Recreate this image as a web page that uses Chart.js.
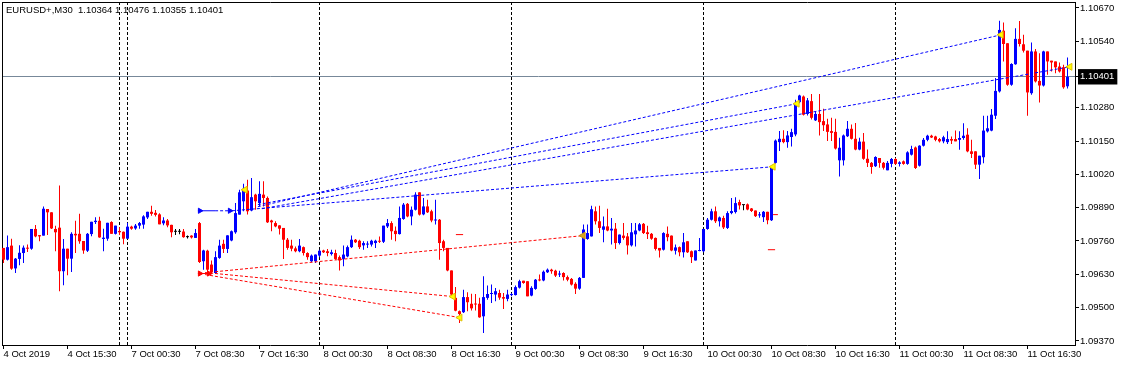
<!DOCTYPE html>
<html><head><meta charset="utf-8">
<script src="https://cdn.jsdelivr.net/npm/chart.js@4.4.1/dist/chart.umd.min.js"></script>
<style>
html,body{margin:0;padding:0;background:#fff;}
#wrap{position:relative;width:1122px;height:365px;background:#fff;}
#title{position:absolute;left:6px;top:4px;font:9.5px "Liberation Sans",Arial,sans-serif;color:#000;white-space:pre;line-height:11px;}
</style></head><body>
<div id="wrap"><canvas id="c"></canvas><div id="title">EURUSD+,M30  1.10364 1.10476 1.10355 1.10401</div></div>
<script>
// ---- data (EURUSD M30 candles) ----
const opens = [
1.09733,1.09687,1.09742,1.09653,1.09690,1.09713,1.09734,1.09730,1.09807,1.09783,
1.09781,1.09885,1.09872,1.09807,1.09812,1.09642,1.09730,1.09691,1.09788,1.09788,
1.09760,1.09722,1.09787,1.09834,1.09839,1.09768,1.09769,1.09834,1.09788,1.09799,
1.09796,1.09769,1.09816,1.09809,1.09820,1.09824,1.09852,1.09874,1.09870,1.09864,
1.09829,1.09840,1.09823,1.09796,1.09796,1.09797,1.09775,
1.09781,1.09772,1.09830,
1.09681,1.09722,1.09668,1.09635,1.09694,1.09749,1.09729,1.09762,1.09794,1.09863,
1.09915,1.09957,1.09879,1.09941,1.09908,1.09941,1.09928,1.09840,1.09830,1.09821,
1.09811,1.09765,1.09742,1.09731,1.09720,1.09736,1.09713,1.09681,1.09681,1.09703,
1.09723,1.09720,1.09709,1.09713,1.09697,1.09690,1.09700,1.09736,1.09765,1.09761,
1.09743,1.09746,1.09746,1.09752,1.09761,1.09757,1.09817,1.09830,1.09800,1.09787,
1.09846,1.09905,1.09856,1.09882,1.09950,1.09864,1.09895,1.09876,1.09840,1.09843,
1.09759,1.09733,1.09645,1.09538,1.09486,1.09482,1.09541,1.09515,1.09515,1.09515,
1.09466,1.09538,1.09553,1.09551,1.09557,1.09541,1.09534,1.09549,1.09549,1.09578,
1.09605,1.09603,1.09547,1.09573,1.09609,1.09606,1.09638,
1.09648,1.09644,1.09629,1.09635,1.09619,1.09612,1.09593,1.09574,1.09616,1.09768,
1.09778,1.09876,1.09837,1.09804,1.09817,1.09801,1.09808,1.09752,1.09781,1.09778,
1.09743,1.09786,1.09801,1.09827,1.09794,1.09788,1.09772,1.09733,1.09726,1.09788,
1.09781,1.09722,1.09736,1.09716,1.09759,1.09720,1.09684,1.09721,1.09720,1.09807,
1.09843,1.09876,1.09837,1.09850,1.09811,
1.09869,1.09873,1.09912,1.09900,1.09903,1.09887,1.09879,1.09860,1.09853,1.09874,1.09841,
1.10065,1.10146,1.10159,1.10146,1.10166,1.10176,1.10302,1.10324,1.10256,1.10306,
1.10231,1.10256,1.10228,1.10215,1.10189,1.10186,1.10075,1.10075,1.10169,1.10198,
1.10159,1.10117,1.10148,1.10081,1.10065,1.10052,1.10084,1.10065,1.10036,
1.10061,1.10080,1.10061,1.10071,1.10061,1.10097,1.10125,1.10054,1.10132,1.10155,
1.10171,1.10168,1.10158,1.10149,1.10146,1.10158,1.10158,1.10155,1.10162,1.10175,
1.10110,1.10110,1.10058,1.10087,1.10188,1.10191,1.10249,1.10344,1.10581,1.10532,
1.10370,1.10450,1.10549,1.10528,1.10503,1.10337,1.10500,1.10385,1.10367,1.10500,
1.10464,1.10461,1.10441,1.10438,1.10364
];
const highs = [
1.09733,1.09781,1.09769,1.09694,1.09743,1.09742,1.09746,1.09807,1.09822,1.09783,
1.09895,1.09885,1.09872,1.09820,1.09977,1.09768,1.09730,1.09794,1.09839,1.09866,
1.09760,1.09791,1.09835,1.09853,1.09855,1.09808,1.09831,1.09837,1.09820,1.09814,
1.09797,1.09831,1.09820,1.09826,1.09834,1.09861,1.09874,1.09898,1.09881,1.09868,
1.09853,1.09846,1.09823,1.09807,1.09807,1.09807,1.09781,
1.09782,1.09807,1.09834,
1.09726,1.09726,1.09684,1.09720,1.09765,1.09765,1.09782,1.09801,1.09908,1.09960,
1.09983,1.09999,1.10006,1.09944,1.09993,1.09993,1.09934,1.09843,1.09837,1.09821,
1.09811,1.09772,1.09765,1.09739,1.09768,1.09739,1.09716,1.09707,1.09707,1.09726,
1.09726,1.09729,1.09726,1.09726,1.09703,1.09742,1.09742,1.09781,1.09768,1.09765,
1.09759,1.09759,1.09765,1.09765,1.09778,1.09820,1.09846,1.09837,1.09817,1.09895,
1.09908,1.09908,1.09895,1.09950,1.09950,1.09928,1.09921,1.09882,1.09921,1.09846,
1.09765,1.09733,1.09645,1.09580,1.09489,1.09570,1.09560,1.09554,1.09553,1.09538,
1.09622,1.09586,1.09590,1.09577,1.09570,1.09557,1.09570,1.09557,1.09586,1.09609,
1.09605,1.09603,1.09583,1.09612,1.09629,1.09645,1.09653,
1.09652,1.09648,1.09644,1.09638,1.09625,1.09616,1.09599,1.09619,1.09824,1.09824,
1.09898,1.09895,1.09898,1.09856,1.09886,1.09850,1.09830,1.09785,1.09830,1.09791,
1.09830,1.09830,1.09830,1.09830,1.09820,1.09791,1.09774,1.09733,1.09794,1.09817,
1.09781,1.09746,1.09739,1.09791,1.09759,1.09723,1.09723,1.09772,1.09807,1.09850,
1.09886,1.09895,1.09856,1.09859,1.09876,
1.09928,1.09931,1.09921,1.09901,1.09906,1.09889,1.09879,1.09873,1.09877,1.09874,1.10049,
1.10156,1.10189,1.10192,1.10189,1.10198,1.10311,1.10331,1.10328,1.10318,1.10334,
1.10267,1.10334,1.10276,1.10237,1.10241,1.10237,1.10163,1.10176,1.10228,1.10215,
1.10221,1.10163,1.10182,1.10117,1.10068,1.10091,1.10084,1.10068,1.10072,
1.10084,1.10084,1.10071,1.10074,1.10110,1.10132,1.10129,1.10134,1.10162,1.10175,
1.10175,1.10171,1.10162,1.10171,1.10188,1.10168,1.10191,1.10188,1.10220,1.10200,
1.10155,1.10110,1.10093,1.10249,1.10249,1.10275,1.10396,1.10620,1.10613,1.10532,
1.10454,1.10591,1.10619,1.10565,1.10503,1.10535,1.10510,1.10493,1.10503,1.10500,
1.10464,1.10461,1.10457,1.10448,1.10476
];
const lows = [
1.09674,1.09684,1.09648,1.09635,1.09665,1.09674,1.09717,1.09726,1.09775,1.09759,
1.09781,1.09783,1.09807,1.09720,1.09564,1.09587,1.09626,1.09639,1.09713,1.09749,
1.09710,1.09717,1.09779,1.09826,1.09773,1.09720,1.09761,1.09788,1.09785,1.09783,
1.09747,1.09769,1.09804,1.09804,1.09808,1.09808,1.09846,1.09859,1.09856,1.09825,
1.09821,1.09814,1.09775,1.09783,1.09786,1.09773,1.09770,
1.09770,1.09772,1.09674,
1.09648,1.09635,1.09632,1.09631,1.09691,1.09713,1.09713,1.09759,1.09788,1.09863,
1.09876,1.09863,1.09876,1.09882,1.09895,1.09895,1.09830,1.09798,1.09814,1.09785,
1.09690,1.09726,1.09720,1.09716,1.09716,1.09703,1.09687,1.09677,1.09674,1.09697,
1.09713,1.09700,1.09703,1.09687,1.09645,1.09661,1.09697,1.09733,1.09752,1.09729,
1.09726,1.09733,1.09739,1.09733,1.09752,1.09752,1.09811,1.09765,1.09759,1.09785,
1.09843,1.09853,1.09821,1.09879,1.09860,1.09861,1.09869,1.09833,1.09824,1.09687,
1.09720,1.09642,1.09544,1.09486,1.09440,1.09479,1.09486,1.09489,1.09489,1.09460,
1.09401,1.09531,1.09518,1.09525,1.09531,1.09495,1.09525,1.09544,1.09547,1.09575,
1.09593,1.09544,1.09544,1.09570,1.09603,1.09603,1.09635,
1.09632,1.09619,1.09619,1.09606,1.09603,1.09586,1.09553,1.09570,1.09616,1.09765,
1.09778,1.09824,1.09791,1.09755,1.09798,1.09746,1.09729,1.09746,1.09765,1.09707,
1.09739,1.09739,1.09798,1.09787,1.09768,1.09765,1.09723,1.09696,1.09723,1.09759,
1.09720,1.09707,1.09700,1.09696,1.09713,1.09674,1.09684,1.09720,1.09716,1.09804,
1.09840,1.09830,1.09817,1.09807,1.09807,
1.09864,1.09867,1.09883,1.09880,1.09880,1.09873,1.09854,1.09851,1.09834,1.09825,1.09838,
1.10062,1.10111,1.10142,1.10124,1.10129,1.10169,1.10298,1.10250,1.10250,1.10234,
1.10228,1.10172,1.10189,1.10150,1.10150,1.10117,1.10012,1.10055,1.10166,1.10156,
1.10114,1.10114,1.10077,1.10049,1.10023,1.10049,1.10046,1.10039,1.10036,
1.10048,1.10058,1.10051,1.10058,1.10058,1.10094,1.10041,1.10051,1.10129,1.10149,
1.10162,1.10149,1.10145,1.10142,1.10139,1.10139,1.10149,1.10116,1.10155,1.10106,
1.10084,1.10041,1.10002,1.10064,1.10184,1.10188,1.10236,1.10340,1.10461,1.10366,
1.10366,1.10448,1.10519,1.10496,1.10249,1.10331,1.10379,1.10301,1.10363,1.10409,
1.10422,1.10415,1.10418,1.10354,1.10355
];
const closes = [
1.09687,1.09736,1.09652,1.09691,1.09714,1.09734,1.09730,1.09807,1.09778,1.09778,
1.09886,1.09872,1.09809,1.09794,1.09642,1.09730,1.09691,1.09788,1.09782,1.09759,
1.09723,1.09788,1.09835,1.09839,1.09774,1.09773,1.09831,1.09788,1.09820,1.09794,
1.09769,1.09816,1.09808,1.09820,1.09830,1.09856,1.09874,1.09866,1.09862,1.09825,
1.09840,1.09821,1.09794,1.09796,1.09796,1.09775,1.09775,
1.09774,1.09791,1.09678,
1.09723,1.09648,1.09638,1.09697,1.09742,1.09729,1.09782,1.09798,1.09869,1.09950,
1.09964,1.09876,1.09931,1.09915,1.09944,1.09928,1.09833,1.09833,1.09817,1.09808,
1.09765,1.09733,1.09730,1.09720,1.09742,1.09713,1.09697,1.09703,1.09707,1.09722,
1.09716,1.09713,1.09716,1.09690,1.09684,1.09707,1.09736,1.09765,1.09755,1.09736,
1.09752,1.09749,1.09761,1.09761,1.09757,1.09820,1.09830,1.09798,1.09787,1.09850,
1.09902,1.09856,1.09882,1.09941,1.09863,1.09895,1.09872,1.09840,1.09843,1.09752,
1.09733,1.09645,1.09551,1.09488,1.09475,1.09541,1.09521,1.09497,1.09512,1.09462,
1.09541,1.09553,1.09557,1.09564,1.09539,1.09535,1.09551,1.09551,1.09580,1.09603,
1.09596,1.09544,1.09577,1.09609,1.09606,1.09640,1.09648,
1.09642,1.09625,1.09631,1.09619,1.09609,1.09590,1.09574,1.09616,1.09805,1.09791,
1.09884,1.09837,1.09811,1.09817,1.09801,1.09808,1.09752,1.09785,1.09772,1.09743,
1.09794,1.09801,1.09825,1.09791,1.09787,1.09769,1.09729,1.09723,1.09791,1.09775,
1.09723,1.09735,1.09716,1.09755,1.09716,1.09697,1.09723,1.09722,1.09807,1.09843,
1.09876,1.09837,1.09852,1.09813,1.09869,
1.09877,1.09908,1.09899,1.09900,1.09883,1.09877,1.09857,1.09864,1.09874,1.09841,1.10046,
1.10152,1.10159,1.10146,1.10172,1.10185,1.10298,1.10328,1.10253,1.10309,1.10241,
1.10256,1.10224,1.10212,1.10186,1.10182,1.10121,1.10124,1.10172,1.10198,1.10159,
1.10117,1.10148,1.10081,1.10065,1.10049,1.10088,1.10065,1.10046,1.10065,
1.10080,1.10061,1.10067,1.10061,1.10106,1.10119,1.10045,1.10132,1.10155,1.10171,
1.10164,1.10155,1.10149,1.10165,1.10158,1.10152,1.10149,1.10162,1.10171,1.10110,
1.10100,1.10058,1.10093,1.10191,1.10200,1.10253,1.10346,1.10584,1.10529,1.10370,
1.10451,1.10549,1.10529,1.10503,1.10340,1.10500,1.10383,1.10367,1.10500,1.10461,
1.10457,1.10438,1.10422,1.10360,1.10401
];
const xTickIdx = [0,16,32,48,64,80,96,112,128,144,160,176,192,208,224,240,256];
const xTickLabels = ["4 Oct 2019","4 Oct 15:30","7 Oct 00:30","7 Oct 08:30","7 Oct 16:30","8 Oct 00:30","8 Oct 08:30","8 Oct 16:30","9 Oct 00:30","9 Oct 08:30","9 Oct 16:30","10 Oct 00:30","10 Oct 08:30","10 Oct 16:30","11 Oct 00:30","11 Oct 08:30","11 Oct 16:30"];
const yTickValues = [1.10670,1.10540,1.10280,1.10150,1.10020,1.09890,1.09760,1.09630,1.09500,1.09370];
const currentPrice = 1.10401;
const separatorIdx = [29,31,79,127,175,223];
// trades: [openBar, openPrice, closeBar, closePrice]
const buyTrades = [
  [63.6,1.09894,249.4,1.10565],
  [63.6,1.09902,198.4,1.10296],
  [64.6,1.09886,266.6,1.10440],
  [57.1,1.09878,192.4,1.10050]
];
const sellTrades = [
  [52.9,1.09640,144.9,1.09781],
  [50.4,1.09637,112.4,1.09543],
  [50.4,1.09629,114.1,1.09461]
];
const closeArrowBars   = [60.4,112.4,114.1,192.4,198.4,249.4,266.6];
const closeArrowPrices = [1.09960,1.09543,1.09461,1.10050,1.10296,1.10565,1.10440];
const goldArrowBars    = [144.9];
const goldArrowPrices  = [1.09781];
// pending order lines: [fromBar, solidToBar, toBar, price]
const buyOrder  = [48.6,52.9,57.1,1.09878];
const sellOrder = [48.6,52.1,52.1,1.09633];
const buyOrderArrows = [49.1,56.6];
const sellOrderArrows = [49.1,51.4];
// stop/target marks: [fromBar, toBar, price]
const levelMarks = [[113.1,114.9,1.09785],[191.1,192.9,1.09726],[192.4,193.6,1.09863]];

const Y_MIN = 1.09354, Y_MAX = 1.10693;
const X_MIN = -0.375, X_MAX = 267.875;

const lensOk = opens.length===267 && highs.length===267 && lows.length===267 && closes.length===267;
if (!lensOk) document.getElementById('title').textContent = 'LEN ' + opens.length+' '+highs.length+' '+lows.length+' '+closes.length;

const FONT = {family: "'Liberation Sans', Arial, sans-serif", size: 9.5};
const BLUE = '#0000FF', RED = '#FF0000';
const candleColor = opens.map((o,i) => closes[i] > o ? BLUE : (closes[i] < o ? RED : '#000000'));
const idx = opens.map((_, i) => i);

const datasets = [];
datasets.push({type:'bar', data: idx.map(i => ({x:i, y:[opens[i], closes[i]]})), backgroundColor: candleColor,
  barThickness:3, minBarLength:1, grouped:false, inflateAmount:0, borderWidth:0, order:2});
datasets.push({type:'bar', data: idx.map(i => ({x:i, y:[lows[i], highs[i]]})), backgroundColor: candleColor,
  barThickness:1, grouped:false, inflateAmount:0, borderWidth:0, order:3});
separatorIdx.forEach(s => datasets.push({type:'line', data:[{x:s,y:Y_MIN},{x:s,y:Y_MAX}],
  borderColor:'#000', borderWidth:1, borderDash:[3,2], pointRadius:0, order:4}));
function seg(a, b, color, dash, order) {
  return {type:'line', data:[{x:a[0],y:a[1]},{x:b[0],y:b[1]}], borderColor:color, borderWidth:1,
    borderDash:dash, pointRadius:0, tension:0, order:order};
}
buyTrades.forEach(t => datasets.push(seg([t[0],t[1]],[t[2],t[3]], BLUE, [3,2], 1)));
sellTrades.forEach(t => datasets.push(seg([t[0],t[1]],[t[2],t[3]], RED, [3,2], 1)));
datasets.push(seg([buyOrder[0],buyOrder[3]],[buyOrder[1],buyOrder[3]], BLUE, [], 1));
datasets.push(seg([buyOrder[1],buyOrder[3]],[buyOrder[2],buyOrder[3]], BLUE, [3,2], 1));
datasets.push(seg([sellOrder[0],sellOrder[3]],[sellOrder[1],sellOrder[3]], RED, [], 1));
levelMarks.forEach(m => datasets.push(seg([m[0],m[2]],[m[1],m[2]], RED, [], 1)));
datasets.push({type:'line', showLine:false, data: buyOrderArrows.map(b => ({x:b, y:buyOrder[3]})),
  pointStyle:'triangle', rotation:90, pointRadius:3, backgroundColor:BLUE, borderColor:BLUE, borderWidth:1, order:0});
datasets.push({type:'line', showLine:false, data: sellOrderArrows.map(b => ({x:b, y:sellOrder[3]})),
  pointStyle:'triangle', rotation:90, pointRadius:3, backgroundColor:RED, borderColor:RED, borderWidth:1, order:0});
datasets.push({type:'line', showLine:false, data: closeArrowBars.map((b,i) => ({x:b, y:closeArrowPrices[i]})),
  pointStyle:'triangle', rotation:-90, pointRadius:4, backgroundColor:'#FFFF00', borderColor:'#E0C000', borderWidth:1, order:0});
datasets.push({type:'line', showLine:false, data: goldArrowBars.map((b,i) => ({x:b, y:goldArrowPrices[i]})),
  pointStyle:'triangle', rotation:-90, pointRadius:4, backgroundColor:'#DAA520', borderColor:'#C89010', borderWidth:1, order:0});

const isCur = ctx => ctx.tick && Math.abs(ctx.tick.value - currentPrice) < 1e-7;
const noPad = s => { s.paddingLeft = 0; s.paddingRight = 0; s.paddingTop = 0; s.paddingBottom = 0; };

new Chart(document.getElementById('c'), {
  type: 'bar',
  data: { datasets },
  options: {
    responsive: true, maintainAspectRatio: false, animation: false, events: [],
    layout: { autoPadding: false, padding: {left:2, top:2, right:0, bottom:0} },
    plugins: { legend: {display:false}, tooltip: {enabled:false}, title:{display:false} },
    scales: {
      x: { type:'linear', position:'bottom', min:X_MIN, max:X_MAX, offset:false,
        afterBuildTicks: s => { s.ticks = xTickIdx.map(v => ({value:v})); },
        afterFit: s => { s.height = 20; noPad(s); },
        ticks: { autoSkip:false, maxRotation:0, minRotation:0, align:'start', padding:0, color:'#000', font:FONT,
          callback: (v, i) => xTickLabels[i] },
        grid: { offset:false, drawOnChartArea:false, drawTicks:true, tickLength:4, tickColor:'#000', color:'#000' },
        border: { display:true, color:'#000', width:1 }
      },
      xt: { type:'linear', position:'top', display:true, offset:false,
        afterFit: s => { s.height = 0; noPad(s); },
        ticks: { display:false }, grid: { offset:false, drawOnChartArea:false, drawTicks:false },
        border: { display:true, color:'#000', width:1 }
      },
      y: { type:'linear', position:'right', min:Y_MIN, max:Y_MAX, beginAtZero:false,
        afterBuildTicks: s => { s.ticks = yTickValues.concat([currentPrice]).map(v => ({value:v})); },
        afterFit: s => { s.width = 47; noPad(s); },
        ticks: { autoSkip:false, padding:1, font:FONT,
          color: ctx => isCur(ctx) ? '#FFFFFF' : '#000000',
          showLabelBackdrop: ctx => isCur(ctx),
          backdropColor: '#000000',
          backdropPadding: {top:2, bottom:2, left:2, right:3},
          callback: v => Number(v).toFixed(5) },
        grid: { drawOnChartArea:true, drawTicks:true, tickLength:4, tickColor:'#000',
          color: ctx => isCur(ctx) ? '#778899' : 'rgba(0,0,0,0)', lineWidth:1 },
        border: { display:true, color:'#000', width:1 }
      },
      yl: { type:'linear', position:'left', display:true,
        afterFit: s => { s.width = 0; noPad(s); },
        ticks: { display:false }, grid: { drawOnChartArea:false, drawTicks:false },
        border: { display:true, color:'#000', width:1 }
      }
    }
  }
});
</script>
</body></html>
